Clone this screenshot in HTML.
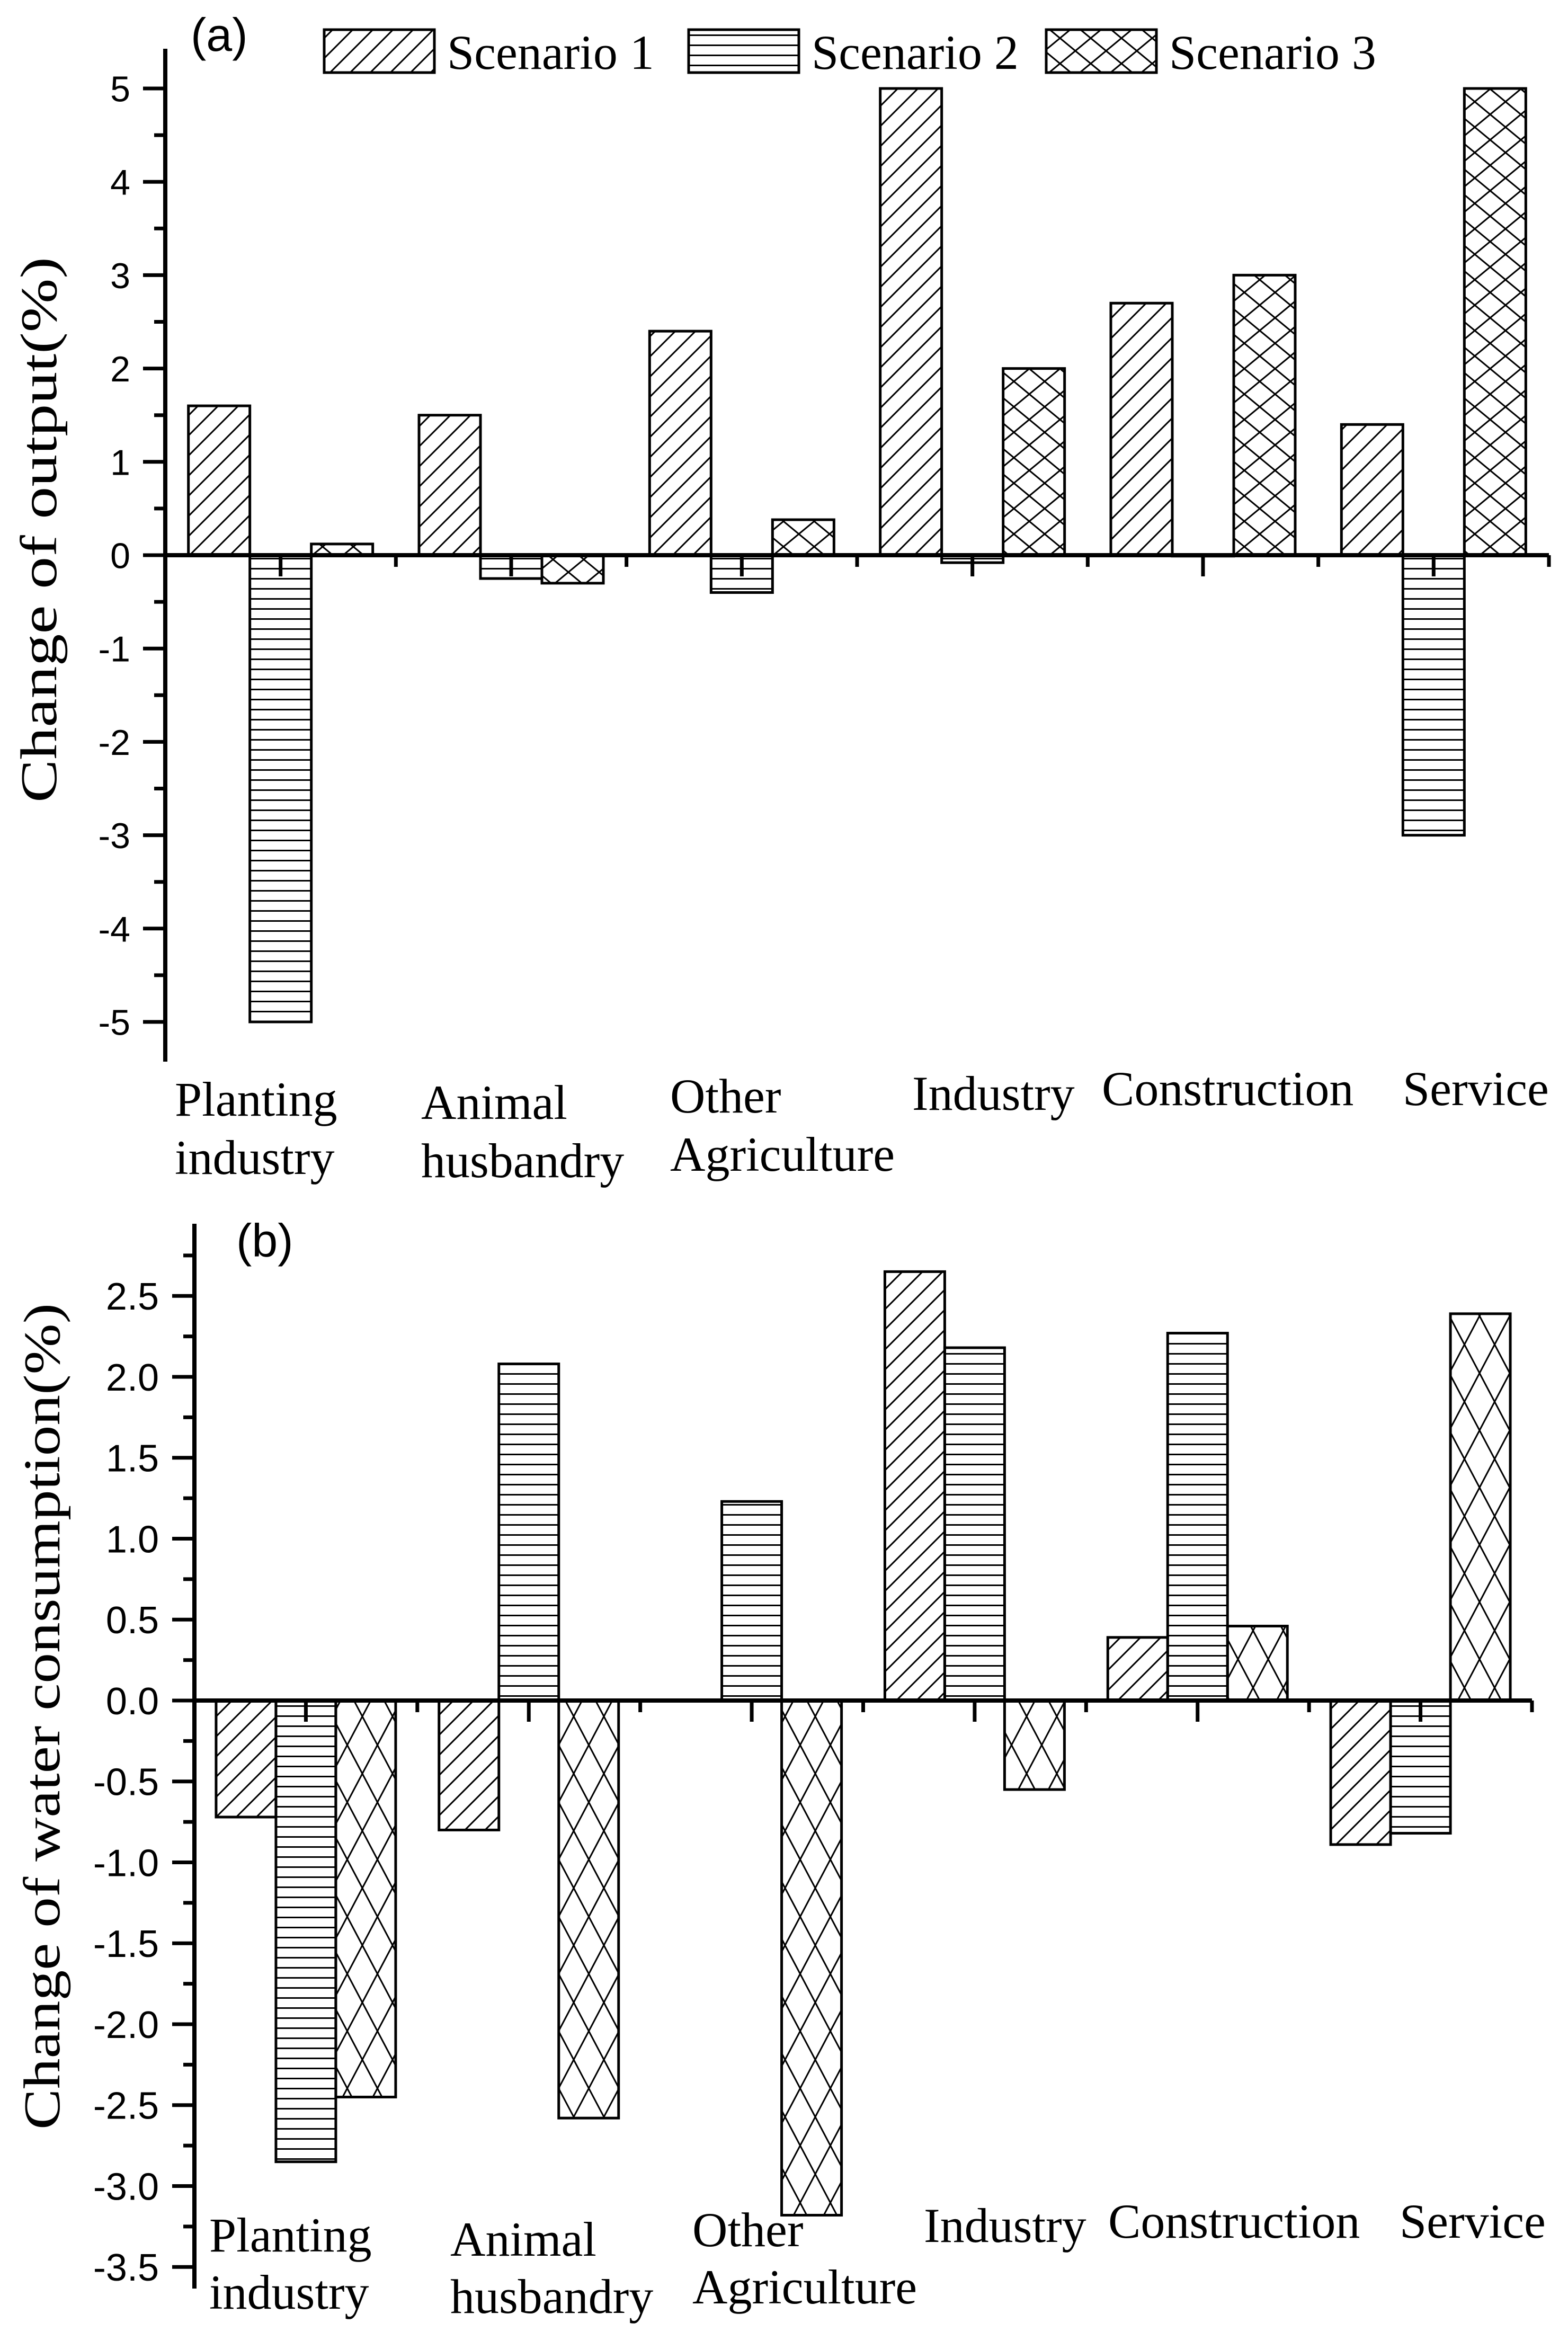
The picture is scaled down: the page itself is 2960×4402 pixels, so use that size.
<!DOCTYPE html>
<html><head><meta charset="utf-8">
<style>
html,body{margin:0;padding:0;background:#fff;}
svg{display:block;}
.tick{font-family:"Liberation Sans",Arial,sans-serif;}
.serif{font-family:"Liberation Serif","Times New Roman",serif;}
</style></head>
<body>
<svg id="chart" width="2960" height="4402" viewBox="0 0 2960 4402" xmlns="http://www.w3.org/2000/svg">
<defs>
  <pattern id="pA1" patternUnits="userSpaceOnUse" width="38" height="38">
    <path d="M-5,43 L43,-5 M-24,24 L24,-24 M14,62 L62,14" stroke="#000" stroke-width="3"/>
  </pattern>
  <pattern id="pA2" patternUnits="userSpaceOnUse" width="40" height="19">
    <path d="M0,9.5 H40" stroke="#000" stroke-width="3"/>
  </pattern>
  <pattern id="pA3" patternUnits="userSpaceOnUse" width="58" height="48">
    <path d="M0,0 L58,48 M58,0 L0,48 M-58,0 L58,96 M0,-48 L58,0" stroke="#000" stroke-width="3"/>
  </pattern>
  <pattern id="pB3" patternUnits="userSpaceOnUse" width="57" height="108">
    <path d="M0,0 L57,108 M57,0 L0,108" stroke="#000" stroke-width="3"/>
  </pattern>
</defs>
<rect width="2960" height="4402" fill="#fff"/>
<g id="panelA"></g>
<g id="panelB"></g>
</svg>
<script>
const categories = ["Planting industry","Animal husbandry","Other Agriculture","Industry","Construction","Service"];
const outputS1 = [1.6, 1.5, 2.4, 5.0, 2.7, 1.4];
const outputS2 = [-5.0, -0.25, -0.4, -0.08, -0.01, -3.0];
const outputS3 = [0.12, -0.3, 0.38, 2.0, 3.0, 5.0];
const waterS1 = [-0.72, -0.8, 0, 2.65, 0.39, -0.89];
const waterS2 = [-2.85, 2.08, 1.23, 2.18, 2.27, -0.82];
const waterS3 = [-2.45, -2.58, -3.18, -0.55, 0.46, 2.39];
const ticksA = [-5, -4, -3, -2, -1, 0, 1, 2, 3, 4, 5];
const tickLabelsA = ["-5","-4","-3","-2","-1","0","1","2","3","4","5"];
const ticksB = [-3.5, -3.0, -2.5, -2.0, -1.5, -1.0, -0.5, 0.0, 0.5, 1.0, 1.5, 2.0, 2.5];
const tickLabelsB = ["-3.5","-3.0","-2.5","-2.0","-1.5","-1.0","-0.5","0.0","0.5","1.0","1.5","2.0","2.5"];
const seriesNames = ["Scenario 1","Scenario 2","Scenario 3"];

const NS = "http://www.w3.org/2000/svg";
function mk(parent, tag, attrs, text){
  const e = document.createElementNS(NS, tag);
  for (const k in attrs) e.setAttribute(k, attrs[k]);
  if (text !== undefined) e.textContent = text;
  parent.appendChild(e);
  return e;
}

function drawPanel(g, cfg){
  const y = v => cfg.zero - v * cfg.unit;
  const pitch = (cfg.xEnd - cfg.x0) / categories.length;
  const bx = (i, s) => cfg.x0 + pitch * i + (pitch - 3 * cfg.bw) / 2 + s * cfg.bw;
  const series = cfg.series;
  for (let s = 0; s < 3; s++){
    for (let i = 0; i < categories.length; i++){
      const v = series[s][i];
      if (v === 0) continue;
      const top = Math.min(y(v), y(0)), h = Math.abs(y(v) - y(0));
      const r = mk(g, "rect", {x: bx(i, s), y: top, width: cfg.bw, height: h, fill: "url(#" + cfg.pats[s] + ")", stroke: "#000", "stroke-width": 5});
      
      
    }
  }
  const ya = mk(g, "line", {x1: cfg.x0, y1: cfg.axisTop, x2: cfg.x0, y2: cfg.axisBottom, stroke: "#000", "stroke-width": 8});
  
  
  const xa = mk(g, "line", {x1: cfg.x0, y1: y(0), x2: cfg.xEnd, y2: y(0), stroke: "#000", "stroke-width": 8});
  
  
  for (let t = 0; t < cfg.ticks.length; t++){
    const ty = y(cfg.ticks[t]);
    mk(g, "line", {x1: cfg.x0 - cfg.major, y1: ty, x2: cfg.x0, y2: ty, stroke: "#000", "stroke-width": 7});
    const lb = mk(g, "text", {x: cfg.labelX, y: ty + cfg.fs * 0.36, "text-anchor": "end", "font-size": cfg.fs, class: "tick"}, cfg.tickLabels[t]);
    
    
    const my = y(cfg.ticks[t] + cfg.minorStep);
    if (my > cfg.axisTop + 5) mk(g, "line", {x1: cfg.x0 - cfg.major / 2, y1: my, x2: cfg.x0, y2: my, stroke: "#000", "stroke-width": 7});
  }
  for (let i = 0; i <= categories.length; i++){
    const xx = cfg.x0 + pitch * i;
    if (i > 0) mk(g, "line", {x1: xx, y1: y(0), x2: xx, y2: y(0) + 22, stroke: "#000", "stroke-width": 7});
    if (i < categories.length){
      const cx = xx + pitch / 2;
      mk(g, "line", {x1: cx, y1: y(0), x2: cx, y2: y(0) + 40, stroke: "#000", "stroke-width": 7});
    }
  }
  for (let i = 0; i < categories.length; i++){
    const lines = cfg.catLines[i];
    const t = mk(g, "text", {x: cfg.catX[i], y: cfg.catY[i], "font-size": 92, class: "serif"});
    
    
    lines.forEach((ln, k) => {
      mk(t, "tspan", {x: cfg.catX[i], y: cfg.catY[i] + k * cfg.lineH}, ln);
    });
  }
  const yt = mk(g, "text", {x: 0, y: 0, transform: "translate(" + cfg.titleX + "," + cfg.titleY + ") rotate(-90)", "text-anchor": "middle", "font-size": 98, class: "serif", textLength: cfg.titleLen, lengthAdjust: "spacingAndGlyphs"}, cfg.title);
  
  
  const pl = mk(g, "text", {x: cfg.panelX, y: cfg.panelY, "font-size": 88, class: "tick"}, cfg.panel);
  
  
}

const catLinesA = [["Planting","industry"],["Animal","husbandry"],["Other","Agriculture"],["Industry"],["Construction"],["Service"]];

drawPanel(document.getElementById("panelA"), {
  key: "a", zero: 1048, unit: 176.2, x0: 312, xEnd: 2924, bw: 116,
  axisTop: 92, axisBottom: 2004,
  series: [outputS1, outputS2, outputS3], pats: ["pA1","pA2","pA3"],
  ticks: ticksA, tickLabels: tickLabelsA, minorStep: 0.5, major: 42, labelX: 246, fs: 68,
  catLines: catLinesA,
  catX: [330, 795, 1265, 1722, 2080, 2648],
  catY: [2106, 2112, 2100, 2095, 2086, 2086], lineH: 110,
  title: "Change of output(%)", titleX: 106, titleY: 1000, titleLen: 1030,
  panel: "(a)", panelX: 360, panelY: 96
});

drawPanel(document.getElementById("panelB"), {
  key: "b", zero: 3210, unit: 305.5, x0: 367, xEnd: 2892, bw: 113,
  axisTop: 2310, axisBottom: 4320,
  series: [waterS1, waterS2, waterS3], pats: ["pA1","pA2","pB3"],
  ticks: ticksB, tickLabels: tickLabelsB, minorStep: 0.25, major: 42, labelX: 300, fs: 72,
  catLines: catLinesA,
  catX: [395, 850, 1307, 1744, 2092, 2642],
  catY: [4250, 4258, 4240, 4232, 4224, 4224], lineH: 108,
  title: "Change of water consumption(%)", titleX: 112, titleY: 3240, titleLen: 1560,
  panel: "(b)", panelX: 446, panelY: 2372
});

const leg = document.getElementById("panelA");
const legX = [612, 1300, 1975];
const legPats = ["pA1","pA2","pA3"];
for (let s = 0; s < 3; s++){
  const r = mk(leg, "rect", {x: legX[s], y: 56, width: 208, height: 81, fill: "url(#" + legPats[s] + ")", stroke: "#000", "stroke-width": 5});
  
  
  const t = mk(leg, "text", {x: legX[s] + 232, y: 130, "font-size": 92, class: "serif"}, seriesNames[s]);
  
  
}
</script>
</body></html>
